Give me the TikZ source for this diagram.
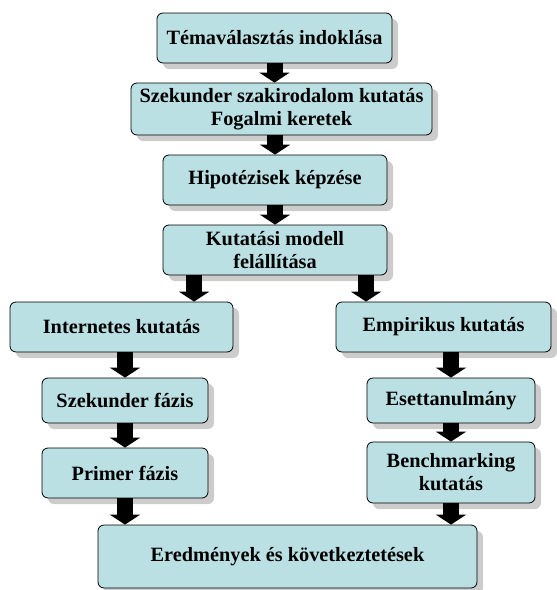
\documentclass[tikz,border=0pt]{standalone}
\usepackage{fontspec}
\setmainfont{Liberation Serif}
\usetikzlibrary{arrows.meta,shadows,calc}
\definecolor{boxfill}{RGB}{187,224,227}

\begin{document}
\begin{tikzpicture}[x=1pt,y=-1pt,
    box/.style={shape=rectangle,rounded corners=6pt,draw=black,line width=0.8pt,fill=boxfill,
      drop shadow={shadow xshift=6pt,shadow yshift=-6pt,fill=gray!40,opacity=1},
      align=center,inner sep=0pt,font=\fontsize{20.3}{23}\selectfont\bfseries},
    blockarrow/.style={line width=16pt,-{Triangle[width=30pt,length=10pt]}}]
    \useasboundingbox (0,0) rectangle (557,590);

    \node[box,minimum width=235pt,minimum height=50pt] (A1) at (274.5,38) {Témaválasztás indoklása};
    \node[box,minimum width=301pt,minimum height=52pt] (A2) at (281.5,109) {Szekunder szakirodalom kutatás\\Fogalmi keretek};
    \node[box,minimum width=224pt,minimum height=50pt] (A3) at (275,180) {Hipotézisek képzése};
    \node[box,minimum width=224pt,minimum height=50pt] (A4) at (275,250) {Kutatási modell\\felállítása};

    \node[box,minimum width=223pt,minimum height=50pt] (A5) at (121.5,327) {Internetes kutatás};
    \node[box,minimum width=166pt,minimum height=45pt] (A7) at (125,400.5) {Szekunder fázis};
    \node[box,minimum width=166pt,minimum height=50pt] (A8) at (125,473) {Primer fázis};

    \node[box,minimum width=215pt,minimum height=50pt] (A6) at (443.5,327) {Empirikus kutatás};
    \node[box,minimum width=168pt,minimum height=45pt] (A9) at (451,400.5) {Esettanulmány};
    \node[box,minimum width=168pt,minimum height=61pt] (A10) at (451,472.5) {Benchmarking\\kutatás};

    \node[box,minimum width=379pt,minimum height=63pt] (A11) at (287.5,556.5) {Eredmények és következtetések};

    \coordinate (L) at ($(A4.south west)!.14!(A4.south east)$);
    \coordinate (R) at ($(A4.south west)!.905!(A4.south east)$);

    \draw[blockarrow] (A1.south) -- (A1.south |- A2.north);
    \draw[blockarrow] (A3.north |- A2.south) -- (A3.north);
    \draw[blockarrow] (A3.south) -- (A4.north);
    \draw[blockarrow] (L) -- (L |- A5.north);
    \draw[blockarrow] (R) -- (R |- A6.north);
    \draw[blockarrow] (A7.north |- A5.south) -- (A7.north);
    \draw[blockarrow] (A7.south) -- (A8.north);
    \draw[blockarrow] (A8.south) -- (A8.south |- A11.north);
    \draw[blockarrow] (A9.north |- A6.south) -- (A9.north);
    \draw[blockarrow] (A9.south) -- (A10.north);
    \draw[blockarrow] (A10.south) -- (A10.south |- A11.north);
\end{tikzpicture}
\end{document}
